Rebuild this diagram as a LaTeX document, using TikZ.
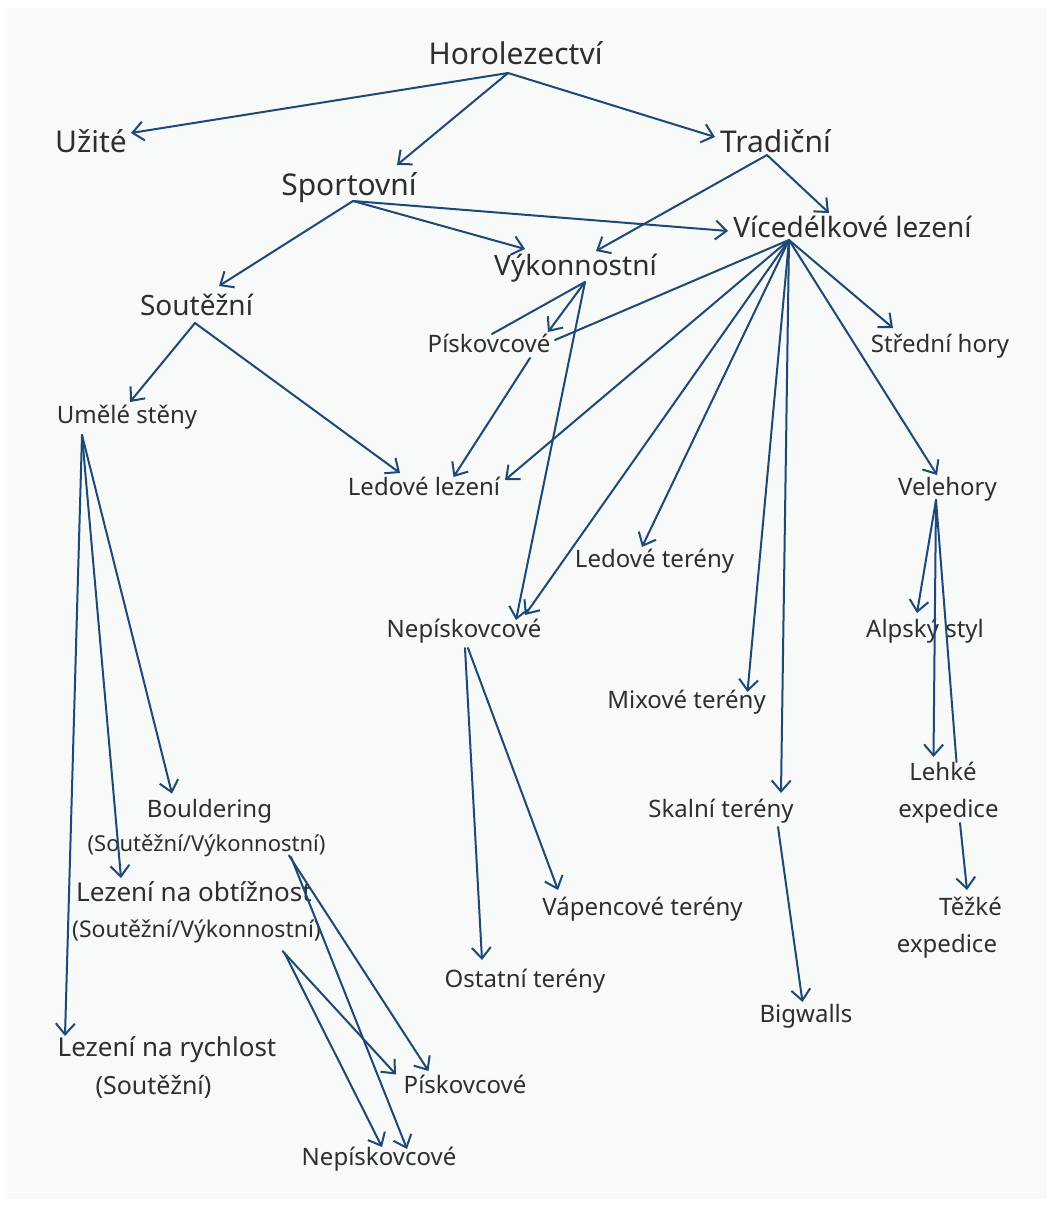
\documentclass[tikz,border=0pt]{standalone}
\usepackage{fontspec}
\setmainfont{Noto Sans}
\usetikzlibrary{arrows.meta,calc}
\definecolor{lin}{HTML}{1D4877}
\definecolor{txt}{HTML}{2E2E2E}
\definecolor{bgc}{HTML}{F8F9F9}
\begin{document}
\begin{tikzpicture}[x=1pt,y=-1pt,
  lvA/.style={font=\fontsize{30}{36}\selectfont,text=txt,inner sep=0pt,anchor=base},
  lvB/.style={font=\fontsize{28}{34}\selectfont,text=txt,inner sep=0pt,anchor=base},
  lvC/.style={font=\fontsize{24}{30}\selectfont,text=txt,inner sep=0pt,anchor=base},
  lvD/.style={font=\fontsize{22}{28}\selectfont,text=txt,inner sep=0pt,anchor=base},
  arr/.style={draw=lin,line width=2pt,line cap=round,-{Straight Barb[length=11pt,width=19pt]}},
  ln/.style={draw=lin,line width=2pt,line cap=round}]
\fill[white] (0,0) rectangle (1055,1207);
\fill[bgc] (7,8) rectangle (1047,1199);
\useasboundingbox (0,0) rectangle (1055,1207);

% nodes
\node[lvA] (H) at (515.5,65) {Horolezectví};
\node[lvA] (U) at (91,152) {Užité};
\node[lvA] (T) at (775.5,152) {Tradiční};
\node[lvA] (S) at (349,195) {Sportovní};
\node[lvB] (V) at (852.5,237) {Vícedélkové lezení};
\node[lvB] (K) at (575.5,275) {Výkonnostní};
\node[lvB] (So) at (196.5,315) {Soutěžní};
\node[lvC] (P1) at (489,352) {Pískovcové};
\node[lvC] (SH) at (940,352) {Střední hory};
\node[lvC] (UM) at (127,423) {Umělé stěny};
\node[lvC] (LL) at (424,495) {Ledové lezení};
\node[lvC] (VH) at (947.5,495) {Velehory};
\node[lvC] (LT) at (654.5,567) {Ledové terény};
\node[lvC] (N1) at (464,637) {Nepískovcové};
\node[lvC] (AS) at (925,637) {Alpský styl};
\node[lvC] (MT) at (686.5,708) {Mixové terény};
\node[lvC] (BO) at (209.5,817) {Bouldering};
\node[lvD] (BOp) at (206.5,851) {(Soutěžní/Výkonnostní)};
\node[lvC] (ST) at (721,817) {Skalní terény};
\node[lvC] (LE) at (943,780) {Lehké};
\node[lvC] (LEx) at (948.5,817) {expedice};
\node[lvC] (VT) at (642.5,915) {Vápencové terény};
\node[lvC,font=\fontsize{26}{32}\selectfont] (OB) at (194,901) {Lezení na obtížnost};
\node[lvD,font=\fontsize{23}{28}\selectfont] (OBp) at (196.5,937) {(Soutěžní/Výkonnostní)};
\node[lvC] (TE) at (970.5,915) {Těžké};
\node[lvC] (TEx) at (947,952) {expedice};
\node[lvC] (OT) at (525,987) {Ostatní terény};
\node[lvC] (BW) at (806,1022) {Bigwalls};
\node[lvC,font=\fontsize{26}{32}\selectfont] (RY) at (167,1056) {Lezení na rychlost};
\node[lvD,font=\fontsize{25}{30}\selectfont] (RYp) at (153.5,1094) {(Soutěžní)};
\node[lvC] (P2) at (465,1093) {Pískovcové};
\node[lvC] (N2) at (379,1165) {Nepískovcové};

% connectors
\draw[arr] ($(H.base)+(-7.5,8)$) -- ($(U.base)+(40,-19)$);
\draw[arr] ($(H.base)+(-7.5,8)$) -- ($(S.base)+(48,-30)$);
\draw[arr] ($(H.base)+(-7.5,8)$) -- ($(T.base)+(-60.5,-15)$);
\draw[arr] ($(T.base)+(-8.5,3)$) -- ($(K.base)+(20.5,-24)$);
\draw[arr] ($(T.base)+(-8.5,3)$) -- ($(V.base)+(-23.5,-24)$);
\draw[arr] ($(S.base)+(4,6)$) -- ($(So.base)+(22.5,-29)$);
\draw[arr] ($(S.base)+(4,6)$) -- ($(K.base)+(-50.5,-26)$);
\draw[arr] ($(S.base)+(4,6)$) -- ($(V.base)+(-124.5,-6)$);
\draw[ln]  ($(K.base)+(9.5,7)$) -- ($(P1.base)+(3,-18)$);
\draw[arr] ($(K.base)+(9.5,7)$) -- ($(P1.base)+(59,-20)$);
\draw[arr] ($(K.base)+(9.5,7)$) -- ($(N1.base)+(52,-17)$);
\draw[ln]  ($(V.base)+(-63.5,3)$) -- ($(P1.base)+(66,-12)$);
\draw[arr] ($(P1.base)+(41,6)$) -- ($(LL.base)+(29.5,-18)$);
\draw[arr] ($(So.base)+(-1.5,8)$) -- ($(UM.base)+(3,-21)$);
\draw[arr] ($(So.base)+(-1.5,8)$) -- ($(LL.base)+(-24,-22)$);
\draw[arr] ($(V.base)+(-63.5,3)$) -- ($(LL.base)+(81,-15)$);
\draw[arr] ($(V.base)+(-63.5,3)$) -- ($(N1.base)+(61,-22)$);
\draw[arr] ($(V.base)+(-63.5,3)$) -- ($(LT.base)+(-12.5,-20)$);
\draw[arr] ($(V.base)+(-63.5,3)$) -- ($(MT.base)+(61,-16)$);
\draw[arr] ($(V.base)+(-63.5,3)$) -- ($(ST.base)+(60,-24)$);
\draw[arr] ($(V.base)+(-63.5,3)$) -- ($(SH.base)+(-47,-24)$);
\draw[arr] ($(V.base)+(-63.5,3)$) -- ($(VH.base)+(-10.5,-20)$);
\draw[arr] ($(VH.base)+(-11.5,5)$) -- ($(AS.base)+(-8,-24)$);
\draw[arr] ($(VH.base)+(-11.5,5)$) -- ($(LE.base)+(-9.5,-23)$);
\draw[ln]  ($(VH.base)+(-11.5,5)$) -- ($(LE.base)+(13.5,-18)$);
\draw[arr] ($(LEx.base)+(11.5,6)$) -- ($(TE.base)+(-3.5,-25)$);
\draw[arr] ($(ST.base)+(57,10)$) -- ($(BW.base)+(-3.5,-20)$);
\draw[arr] ($(N1.base)+(1,11)$) -- ($(OT.base)+(-43,-27)$);
\draw[arr] ($(N1.base)+(4,11)$) -- ($(VT.base)+(-84.5,-25)$);
\draw[arr] ($(UM.base)+(-45,12)$) -- ($(RY.base)+(-102,-20)$);
\draw[arr] ($(UM.base)+(-45,12)$) -- ($(OB.base)+(-73,-23)$);
\draw[arr] ($(UM.base)+(-45,12)$) -- ($(BO.base)+(-37.5,-23.4)$);
\draw[arr] ($(BOp.base)+(82.5,4.5)$) -- ($(P2.base)+(-36.5,-22)$);
\draw[arr] ($(BOp.base)+(84.5,6)$) -- ($(N2.base)+(28,-16)$);
\draw[arr] ($(OBp.base)+(86,14)$) -- ($(P2.base)+(-69,-18.5)$);
\draw[arr] ($(OBp.base)+(88,16)$) -- ($(N2.base)+(3,-18)$);
\end{tikzpicture}
\end{document}
